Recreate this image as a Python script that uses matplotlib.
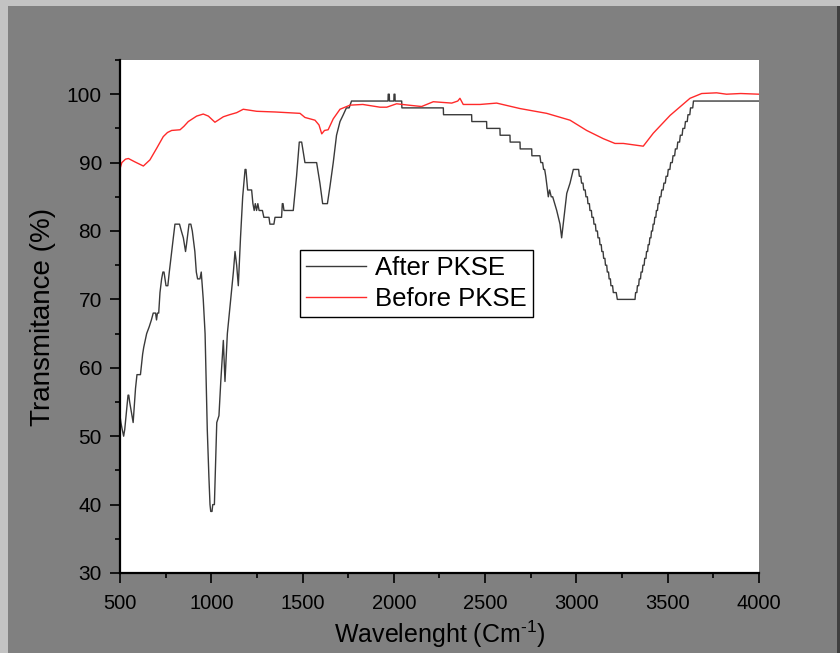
import matplotlib
matplotlib.use("Agg")
import matplotlib.pyplot as plt
from matplotlib.patches import Rectangle
from matplotlib.ticker import MultipleLocator
from matplotlib import font_manager

# ---------------- data ----------------
after_x = [500, 505, 512, 520, 526, 544, 548, 553, 572, 585, 593, 612, 624, 630, 646, 660, 672, 682, 695, 700,
           705, 712, 719, 728, 735, 741, 752, 762, 770, 783, 792, 801, 826, 836, 847, 859, 864, 878, 888, 896,
           910, 918, 925, 938, 945, 956, 966, 978, 987, 993, 997, 1004, 1008, 1017, 1030, 1042, 1052, 1066, 1075, 1088,
           1099, 1121, 1130, 1139, 1148, 1160, 1172, 1185, 1190, 1199, 1221, 1228, 1235, 1241, 1248, 1255, 1262, 1280, 1288, 1316,
           1321, 1343, 1349, 1385, 1389, 1393, 1398, 1449, 1467, 1482, 1495, 1513, 1577, 1595, 1610, 1636, 1650, 1668, 1686, 1705,
           1723, 1740, 1755, 1768, 1968, 1969, 1975, 1976, 2000, 2001, 2006, 2007, 2043, 2044, 2271, 2272, 2426, 2427, 2508, 2509,
           2581, 2582, 2636, 2637, 2691, 2692, 2755, 2756, 2800, 2805, 2815, 2820, 2826, 2832, 2846, 2853, 2862, 2870, 2892, 2910,
           2919, 2932, 2947, 2965, 2983, 3002,
           3012, 3016, 3024, 3028, 3036, 3040, 3048, 3052, 3060, 3063, 3071, 3074, 3082, 3085, 3093, 3096, 3104, 3107, 3115, 3118,
           3126, 3129, 3136, 3139, 3146, 3149, 3156, 3159, 3166, 3169, 3176, 3179, 3186, 3189, 3198, 3202, 3218, 3224, 3321,
           3324, 3331, 3334, 3341, 3344, 3351, 3354, 3361, 3364, 3371, 3374, 3381, 3384, 3390, 3393, 3399, 3402, 3408, 3411, 3417,
           3420, 3426, 3429, 3435, 3438, 3444, 3447, 3453, 3456, 3463, 3467, 3475, 3479, 3487, 3491, 3499, 3503, 3512, 3516, 3525,
           3529, 3538, 3542, 3551, 3555, 3565, 3569, 3579, 3583, 3593, 3597, 3607, 3611, 3621, 3625, 3637, 3641, 4000]
after_y = [53, 52, 51, 50, 51, 56, 56, 55, 52, 57, 59, 59, 62, 63, 65, 66, 67, 68, 68, 67,
           68, 68, 71, 73, 74, 74, 72, 72, 74, 77, 79, 81, 81, 80, 79, 77, 78, 81, 81, 80,
           77, 74, 73, 73, 74, 70, 65, 51, 44, 40, 39, 39, 40, 40, 52, 53, 58, 64, 58, 65,
           68, 74, 77, 75, 72, 79, 85, 89, 89, 86, 86, 84, 83, 84, 83, 84, 83, 83, 82, 82,
           81, 81, 82, 82, 84, 84, 83, 83, 88, 93, 93, 90, 90, 87, 84, 84, 86.5, 90, 94, 96,
           97, 98, 98, 99, 99, 100, 100, 99, 99, 100, 100, 99, 99, 98, 98, 97, 97, 96, 96, 95,
           95, 94, 94, 93, 93, 92, 92, 91, 91, 90, 90, 89, 89, 88, 85, 86, 85, 85, 83, 81,
           79, 82, 85.5, 87, 89, 89,
           89, 88, 88, 87, 87, 86, 86, 85, 85, 84, 84, 83, 83, 82, 82, 81, 81, 80, 80, 79,
           79, 78, 78, 77, 77, 76, 76, 75, 75, 74, 74, 73, 73, 72, 72, 71, 71, 70, 70,
           71, 71, 72, 72, 73, 73, 74, 74, 75, 75, 76, 76, 77, 77, 78, 78, 79, 79, 80, 80,
           81, 81, 82, 82, 83, 83, 84, 84, 85, 85, 86, 86, 87, 87, 88, 88, 89, 89, 90, 90,
           91, 91, 92, 92, 93, 93, 94, 94, 95, 95, 96, 96, 97, 97, 98, 98, 99, 99]

before_x = [500, 510, 530, 546, 582, 628, 664, 701, 737, 760, 783, 829, 850, 874, 920, 956, 984, 1020, 1066, 1100,
            1139, 1175, 1249, 1350, 1486, 1513, 1568, 1590, 1605, 1620, 1640, 1668, 1705, 1760, 1830, 1924, 1961, 2015, 2080, 2152,
            2216, 2317, 2350, 2362, 2380, 2472, 2563, 2691, 2837, 2965, 3056, 3147, 3211, 3257, 3366, 3421, 3513, 3622, 3686, 3768,
            3822, 3900, 4000]
before_y = [89.1, 90.0, 90.5, 90.6, 90.1, 89.5, 90.4, 92.1, 93.8, 94.4, 94.7, 94.8, 95.3, 96.0, 96.8, 97.1, 96.8, 95.9, 96.7, 97.0,
            97.3, 97.8, 97.5, 97.4, 97.2, 96.6, 96.2, 95.5, 94.2, 94.7, 94.8, 96.4, 97.8, 98.4, 98.5, 98.1, 98.1, 98.6, 98.4, 98.2,
            98.9, 98.7, 99.0, 99.4, 98.5, 98.5, 98.7, 97.9, 97.2, 96.2, 94.7, 93.5, 92.8, 92.8, 92.4, 94.3, 96.9, 99.4, 100.1, 100.2,
            100.0, 100.1, 100.0]

series_labels = ["After PKSE", "Before PKSE"]
x_ticks = [500, 1000, 1500, 2000, 2500, 3000, 3500, 4000]
y_ticks = [30, 40, 50, 60, 70, 80, 90, 100]
x_label = "Wavelenght (Cm$^{\\text{-1}}$)"
y_label = "Transmitance (%)"

# ---------------- fonts ----------------
available = {f.name for f in font_manager.fontManager.ttflist}
regular = "Liberation Sans"
narrow = "Liberation Sans Narrow" if "Liberation Sans Narrow" in available else "Liberation Sans"
plt.rcParams["font.family"] = [regular, "DejaVu Sans"]
plt.rcParams["mathtext.fontset"] = "custom"
plt.rcParams["mathtext.rm"] = narrow
plt.rcParams["mathtext.default"] = "regular"

W, H = 840, 653
fig = plt.figure(figsize=(W / 100, H / 100), dpi=100, facecolor="#808080")

# outer frame strips
fig.patches.append(Rectangle((0, 1 - 6 / H), 1, 6 / H, transform=fig.transFigure,
                             facecolor="#c3c3c3", edgecolor="none", zorder=0))
fig.patches.append(Rectangle((0, 0), 8 / W, 1, transform=fig.transFigure,
                             facecolor="#c3c3c3", edgecolor="none", zorder=0))
fig.patches.append(Rectangle((1 - 3 / W, 0), 3 / W, 1 - 6 / H, transform=fig.transFigure,
                             facecolor="#404040", edgecolor="none", zorder=0))

ax = fig.add_axes([120 / W, (H - 573) / H, 639 / W, 513 / H])
ax.set_facecolor("white")

ax.plot(after_x, after_y, color="#3a3a3a", lw=1.0, label=series_labels[0])
ax.plot(before_x, before_y, color="#ff2a2a", lw=1.0, label=series_labels[1])

ax.set_xlim(500, 4000)
ax.set_ylim(30, 105)
ax.set_xticks(x_ticks)
ax.set_yticks(y_ticks)
ax.xaxis.set_minor_locator(MultipleLocator(250))
ax.yaxis.set_minor_locator(MultipleLocator(5))

for s in ["top", "right"]:
    ax.spines[s].set_visible(False)
for s in ["left", "bottom"]:
    ax.spines[s].set_linewidth(1.6)
    ax.spines[s].set_color("black")

ax.tick_params(axis="both", which="major", direction="out", length=7, width=1.2, color="black")
ax.tick_params(axis="both", which="minor", direction="out", length=3.5, width=1.2, color="black")
ax.tick_params(axis="y", which="major", pad=6)
ax.tick_params(axis="x", which="major", pad=8)

for lab in ax.get_yticklabels():
    lab.set_fontsize(15)
    lab.set_family([regular, "DejaVu Sans"])
for lab in ax.get_xticklabels():
    lab.set_fontsize(14.5)
    lab.set_family([narrow, "DejaVu Sans"])

ax.set_ylabel(y_label, fontsize=20, family=[regular, "DejaVu Sans"], labelpad=8)
ax.set_xlabel(x_label, fontsize=18, family=[narrow, "DejaVu Sans"], labelpad=4)

leg = ax.legend(loc="upper left", bbox_to_anchor=((300 - 120) / 639, (573 - 250) / 513),
                borderaxespad=0, fontsize=18.5, frameon=True, fancybox=False,
                handlelength=2.3, handletextpad=0.35, borderpad=0.25, labelspacing=0.25)
leg.get_frame().set_edgecolor("black")
leg.get_frame().set_linewidth(1.0)
leg.get_frame().set_alpha(1)

fig.savefig("out.png", dpi=100, facecolor=fig.get_facecolor())
